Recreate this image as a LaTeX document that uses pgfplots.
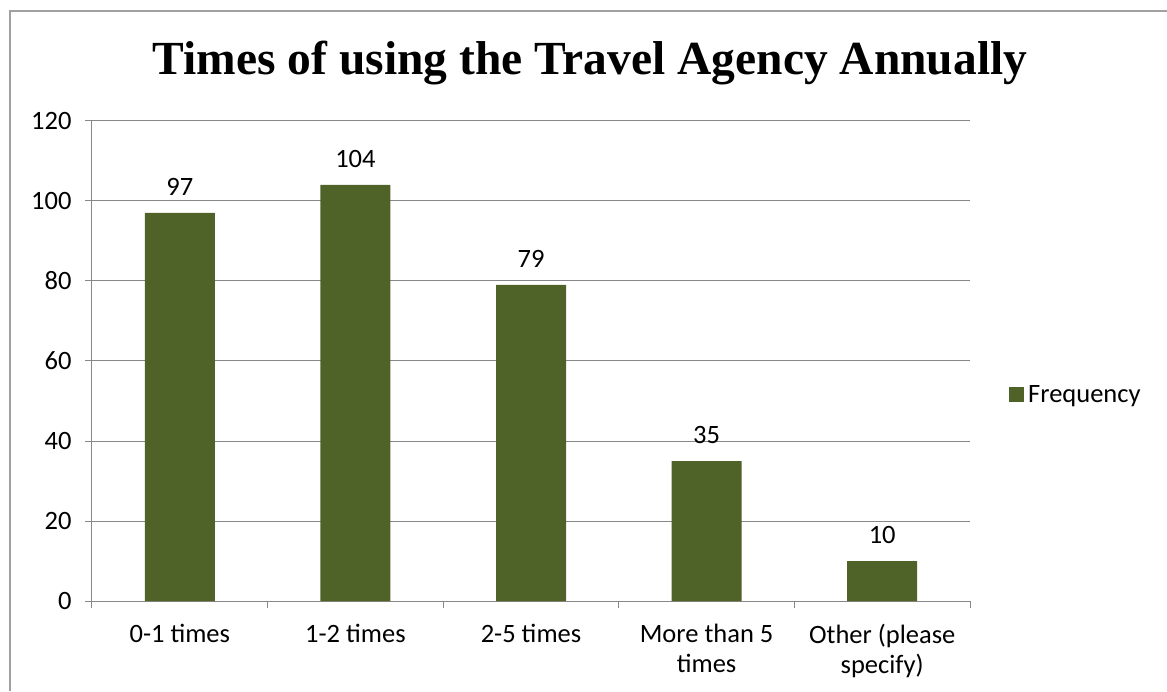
\documentclass[border=0pt]{standalone}
\usepackage{pgfplots}
\pgfplotsset{compat=1.18}
\usepackage{fontspec}
\setmainfont{Carlito}
\newfontfamily\titlefont{Liberation Serif}
\definecolor{barcol}{HTML}{4F6228}
\definecolor{gridcol}{HTML}{878787}
\definecolor{framecol}{HTML}{A0A0A0}
\begin{document}
\begin{tikzpicture}
\path[use as bounding box] (0pt,0pt) rectangle (1167pt,691pt);
\draw[framecol, line width=1.2pt] (10pt,0pt) -- (10pt,680pt) -- (1167pt,680pt);
\node[font=\titlefont\fontsize{47.5}{56}\selectfont\bfseries, anchor=base] at (590pt,616pt) {Times of using the Travel Agency Annually};
\begin{axis}[
  at={(92pt,90pt)}, anchor=south west,
  scale only axis, width=878pt, height=480pt,
  xmin=-0.5, xmax=4.5, ymin=0, ymax=120,
  ytick={0,20,...,120},
  xtick={0,1,2,3,4},
  xticklabels={0-1 times, 1-2 times, 2-5 times, More than 5\\times, Other (please\\specify)},
  /pgf/number format/assume math mode=true,
  x tick label style={align=center, font=\fontsize{26.5}{30}\selectfont, yshift=-13pt},
  y tick label style={font=\fontsize{26.5}{30}\selectfont, xshift=-10pt},
  minor xtick={-0.5,0.5,...,4.5},
  major x tick style={draw=none},
  tick align=outside,
  major tick length=7pt, minor tick length=7pt,
  tick style={gridcol, line width=1pt},
  axis x line*=bottom, axis y line*=left,
  axis line style={gridcol, line width=1pt, -},
  ymajorgrids, grid style={gridcol, line width=1pt},
  ybar, bar width=70pt,
  nodes near coords,
  every node near coord/.append style={font=\fontsize{26.5}{30}\selectfont, black, yshift=14pt},
  legend style={at={(1.041,0.43)}, anchor=west, draw=none, font=\fontsize{26.5}{30}\selectfont, legend cell align=left},
  legend image code/.code={\fill[#1] (2pt,-7.5pt) rectangle (17pt,7.5pt);},
  legend style={nodes={inner xsep=4pt}},
]
\addplot[fill=barcol, draw=none] coordinates {(0,97) (1,104) (2,79) (3,35) (4,10)};
\addlegendentry{Frequency}
\end{axis}
\end{tikzpicture}
\end{document}
